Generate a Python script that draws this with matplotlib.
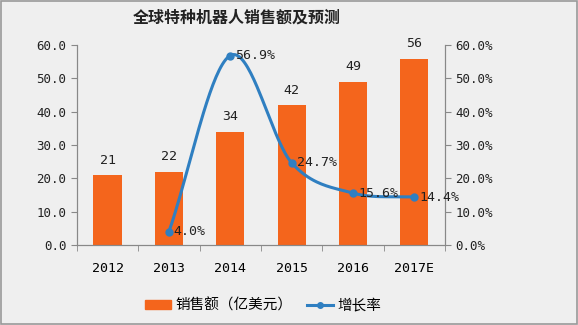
import numpy as np
import matplotlib.pyplot as plt

plt.rcParams['font.family'] = ['Noto Sans CJK SC', 'DejaVu Sans']

years = ['2012', '2013', '2014', '2015', '2016', '2017E']
sales = [21, 22, 34, 42, 49, 56]          # 亿美元
growth = [None, 4.0, 56.9, 24.7, 15.6, 14.4]  # %

bar_color = '#f4651c'
line_color = '#2f7fc1'
bg = '#efefef'


def catmull_rom(px, py, n=40):
    # smooth curve through the points, like a spreadsheet "smoothed line"
    px = np.asarray(px, float)
    py = np.asarray(py, float)
    P = np.column_stack([px, py])
    P = np.vstack([2 * P[0] - P[1], P, 2 * P[-1] - P[-2]])
    out = []
    for i in range(1, len(P) - 2):
        p0, p1, p2, p3 = P[i - 1], P[i], P[i + 1], P[i + 2]
        t = np.linspace(0, 1, n)[:, None]
        seg = 0.5 * ((2 * p1) + (-p0 + p2) * t + (2 * p0 - 5 * p1 + 4 * p2 - p3) * t ** 2
                     + (-p0 + 3 * p1 - 3 * p2 + p3) * t ** 3)
        out.append(seg)
    out = np.vstack(out)
    return out[:, 0], out[:, 1]


fig = plt.figure(figsize=(5.78, 3.25), dpi=100, facecolor=bg)
ax = fig.add_axes([0.133, 0.246, 0.637, 0.615], facecolor=bg)

x = np.arange(len(years))
ax.bar(x, sales, width=0.46, color=bar_color, zorder=2)
for xi, v in zip(x, sales):
    ax.text(xi, v + 2.5, str(v), ha='center', va='bottom', fontsize=9.5,
            family='DejaVu Sans Mono', color='#222222')

ax.set_xlim(-0.5, len(years) - 0.5)
ax.set_ylim(0, 60)
ax.set_yticks(np.arange(0, 61, 10))
ax.set_yticklabels(['%.1f' % v for v in np.arange(0, 61, 10)], family='DejaVu Sans Mono', fontsize=9)
ax.set_xticks(x)
ax.set_xticklabels(years, family='DejaVu Sans Mono', fontsize=9.5)
ax.set_xticks(np.arange(-0.5, len(years)), minor=True)
ax.tick_params(axis='x', which='major', length=0, pad=12)
ax.tick_params(axis='x', which='minor', length=4, direction='out', color='#888888')
ax.tick_params(axis='y', length=4, color='#888888', labelcolor='#222222')
ax.spines['top'].set_visible(False)
for s in ['left', 'right', 'bottom']:
    ax.spines[s].set_color('#888888')

ax2 = ax.twinx()
ax2.set_ylim(0, 60)
ax2.set_yticks(np.arange(0, 61, 10))
ax2.set_yticklabels(['%.1f%%' % v for v in np.arange(0, 61, 10)], family='DejaVu Sans Mono', fontsize=9)
ax2.tick_params(axis='y', length=4, color='#888888', labelcolor='#222222')
ax2.spines['top'].set_visible(False)
for s in ['left', 'right', 'bottom']:
    ax2.spines[s].set_color('#888888')

gx = [i for i, g in enumerate(growth) if g is not None]
gy = [g for g in growth if g is not None]
cx, cy = catmull_rom(gx, gy)
ax2.plot(cx, cy, color=line_color, lw=2.2, zorder=3)
ax2.plot(gx, gy, 'o', color=line_color, ms=5, zorder=4)
for xi, g in zip(gx, gy):
    ax2.text(xi + 0.08, g, '%.1f%%' % g, ha='left', va='center', fontsize=9.5,
             family='DejaVu Sans Mono', color='#222222', zorder=5)

fig.text(0.41, 0.945, '全球特种机器人销售额及预测', ha='center', va='center',
         fontsize=11.5, fontweight='bold', color='#222222')

h1 = plt.Rectangle((0, 0), 1, 1, color=bar_color)
h2, = ax2.plot([], [], '-o', color=line_color, lw=2.2, ms=4)
fig.legend([h1, h2], ['销售额（亿美元）', '增长率'], loc='center', bbox_to_anchor=(0.455, 0.06),
           ncol=2, frameon=False, fontsize=10.5, handlelength=1.8, handletextpad=0.3,
           columnspacing=1.0, handleheight=0.5)

fig.patches.append(plt.Rectangle((0.002, 0.003), 0.996, 0.994, transform=fig.transFigure,
                                 fill=False, edgecolor='#999999', lw=1.2))

fig.savefig('out.png', dpi=100, facecolor=bg)
